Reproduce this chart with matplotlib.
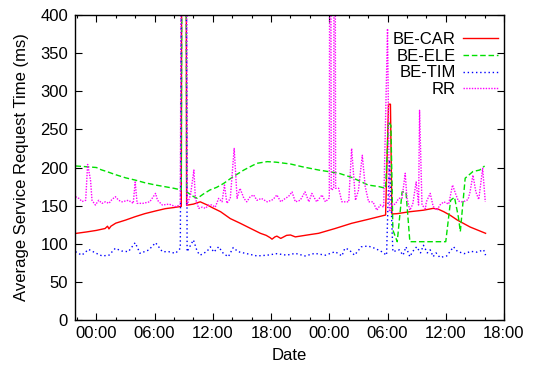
import matplotlib
matplotlib.use('Agg')
import matplotlib.pyplot as plt
from matplotlib.ticker import MultipleLocator, FuncFormatter

plt.rcParams['font.family'] = ['Liberation Sans', 'DejaVu Sans']
plt.rcParams['font.size'] = 12

# hours counted from midnight of the first full day; 900 marks readings far above the plotted range
car_t = [-2.15, -1.0, 0.0, 0.9, 1.15, 1.3, 1.5, 2.0, 3.0, 4.0, 5.0, 6.1, 7.1, 8.0, 8.75, 8.85, 9.2, 9.3,
         10.0, 10.7, 11.4, 12.0, 12.8, 13.8, 14.8, 15.9, 16.9, 17.5, 17.9, 18.1, 18.4, 18.6, 19.0, 19.6,
         20.0, 20.5, 21.0, 22.0, 22.9, 24.6, 26.3, 28.0, 29.8, 30.1, 30.3, 30.45, 31.0, 32.3, 33.7, 34.7,
         35.2, 35.8, 36.5, 37.2, 38.5, 40.1]
car_ms = [113.5, 115.5, 117.5, 120, 123, 119.5, 123, 127, 131, 135.5, 139.5, 143, 146, 147.5, 149, 900, 900, 150.5,
          152, 155, 151, 147, 142, 133, 127, 120, 113.7, 111, 108, 106, 109, 110, 107, 111,
          111.5, 109, 110, 112, 113.7, 120, 126.8, 132, 137.7, 283, 283, 139, 139.5, 142, 144, 146.4,
          145.5, 142, 137, 131, 122, 113.7]

ele_t = [-2.15, -1.0, 0.0, 0.5, 1.0, 2.0, 3.0, 4.0, 5.0, 6.1, 7.0, 8.0, 8.75, 8.9, 9.2, 9.3,
         10.0, 10.4, 11.0, 11.7, 12.4, 13.1, 14.1, 15.2, 16.0, 16.55, 17.6, 18.5, 20.0, 21.2, 22.9,
         25.0, 26.3, 27.0, 28.0, 29.1, 29.8, 30.1, 30.35, 30.55, 31.0, 31.5, 31.9, 32.3, 33.0, 35.5,
         36.0, 36.5, 36.9, 37.3, 37.5, 38.0, 38.8, 39.5, 40.0]
ele_ms = [202, 201, 200, 197, 195, 190.5, 186.5, 183.5, 180, 177, 175, 172.7, 170.5, 900, 900, 168,
          162, 159.5, 165, 170.5, 174, 179, 188, 196.7, 202, 205.5, 207.7, 207, 204.6, 201, 196.7,
          192.4, 187, 183, 177, 175, 172.7, 260, 255, 118, 102.7, 168, 168, 102.7, 102.7, 102.7,
          102.7, 157, 161, 135, 116, 186, 194.7, 196.7, 202]

tim_t = [-2.15, -1.5, -0.8, 0.0, 0.6, 1.3, 1.95, 2.6, 3.3, 4.0, 4.5, 5.4, 6.1, 6.8, 7.45, 8.15, 8.65, 8.9,
         9.2, 9.35, 10.0, 10.4, 10.7, 11.4, 11.75, 12.1, 12.6, 13.1, 13.6, 14.1, 14.6, 15.5, 16.55,
         17.6, 18.6, 19.6, 20.5, 21.5, 22.5, 23.6, 24.6, 25.3, 25.6, 26.0, 26.6, 27.3, 28.0, 28.7,
         29.4, 29.9, 30.05, 30.2, 30.35, 30.55, 31.2, 31.6, 31.9, 32.3, 32.6, 33.0, 33.4, 33.7,
         34.1, 34.4, 34.7, 35.0, 35.4, 36.1, 36.8, 37.2, 37.9, 38.6, 39.2, 39.9, 40.1]
tim_ms = [89.6, 85, 92.6, 87.4, 84, 85, 94, 90.5, 89.6, 101.4, 87.4, 91.8, 101.4, 89.6, 89.6, 87.4, 94, 900,
          900, 89.6, 105, 89.6, 85, 90, 96, 89, 96, 87, 83, 95, 89.6, 87, 84,
          85, 87, 85, 87.4, 84, 87.4, 85, 89.6, 84, 94, 92.6, 85, 96, 97, 94,
          89.6, 85, 153, 210, 160, 89.6, 92, 85, 96, 83, 90, 96, 88, 98,
          88, 92, 83, 88, 82, 84, 96, 90, 87, 90, 89, 92, 85]

rr_t = [-2.15, -1.8, -1.47, -1.1, -0.9, -0.6, -0.45, -0.1, 0.24, 0.59, 0.93, 1.3, 1.6, 1.96, 2.3, 2.65,
        3.3, 3.8, 4.0, 4.2, 4.8, 5.5, 6.1, 6.3, 6.8, 7.5, 8.15, 8.65, 8.85, 9.25, 9.35, 9.7, 10.05,
        10.2, 10.55, 10.9, 11.25, 11.55, 11.9, 12.25, 12.6, 12.95, 13.2, 13.45, 13.8, 14.2, 14.5,
        14.8, 15.2, 15.5, 15.85, 16.2, 16.55, 17.0, 17.6, 18.2, 18.6, 19.0, 19.47, 19.8, 20.16,
        20.5, 21.0, 21.5, 21.9, 22.2, 22.7, 23.25, 23.6, 24.0, 24.1, 24.2, 24.45, 24.55, 24.65,
        24.96, 25.3, 25.6, 26.0, 26.3, 26.7, 27.0, 27.4, 27.7, 28.05, 28.5, 28.9, 29.25, 29.6,
        30.0, 30.2, 30.45, 30.8, 31.15, 31.5, 31.82, 32.0, 32.3, 32.6, 32.95, 33.2, 33.3, 33.55,
        33.9, 34.0, 34.4, 34.7, 35.1, 35.4, 35.8, 36.3, 36.7, 37.0, 37.3, 37.6, 38.0, 38.3, 38.5,
        38.8, 39.1, 39.4, 39.8, 40.07]
rr_ms = [161.7, 159.5, 155.4, 157, 204, 183.6, 157, 150.8, 157, 153, 155, 153, 158, 161.7, 157, 155,
         157, 153, 181, 153, 153, 155, 166, 157, 150.8, 152, 148.7, 150.8, 900, 900, 150.8, 164, 196.7,
         159.5, 146.4, 148, 146.4, 150.8, 150.8, 148, 159.5, 155, 177, 153, 159.5, 225, 159.5,
         172.7, 159.5, 155, 161.7, 164, 157, 159.5, 155, 158, 164, 155, 159.5, 162, 168,
         155, 157, 168, 155, 166, 155, 164, 155, 160, 1000, 170.5, 172, 1000, 172.7,
         172.7, 155, 155, 155, 225, 157, 170, 216, 175, 155, 155, 144, 150.8, 148,
         382, 142, 150.8, 152, 159.5, 160, 192.4, 160, 144, 152, 181, 150.8, 275, 150.8,
         146, 155, 166, 149, 144, 150.8, 155, 152, 177, 166, 156, 155, 156, 158, 168,
         190, 168, 158, 199, 155]

fig = plt.figure(figsize=(5.33, 3.65), dpi=100)
ax = fig.add_axes([75 / 533, 45 / 365, 429 / 533, 305 / 365])

ax.plot(car_t, car_ms, color='#ff0000', lw=1.0, label='BE-CAR')
ax.plot(ele_t, ele_ms, color='#00e000', lw=1.0, ls=(0, (4, 2)), label='BE-ELE')
ax.plot(tim_t, tim_ms, color='#0000ff', lw=1.0, ls=(0, (1, 2)), label='BE-TIM')
ax.plot(rr_t, rr_ms, color='#ff00ff', lw=1.0, ls=(0, (1, 1)), label='RR')

ax.set_xlim(-2.2, 42)
ax.set_ylim(0, 400)
ax.xaxis.set_major_locator(MultipleLocator(6))
ax.xaxis.set_minor_locator(MultipleLocator(2))
ax.xaxis.set_major_formatter(FuncFormatter(lambda h, pos: '%02d:00' % (int(round(h)) % 24)))
ax.yaxis.set_major_locator(MultipleLocator(50))
ax.tick_params(which='both', direction='in', top=True, right=True, width=0.8)
ax.tick_params(which='major', length=5)
ax.tick_params(which='minor', length=2.5)
ax.tick_params(axis='x', pad=4)
ax.tick_params(axis='y', pad=5)
for s in ax.spines.values():
    s.set_linewidth(1.0)

ax.set_xlabel('Date', labelpad=5)
ax.set_ylabel('Average Service Request Time (ms)', labelpad=8)

ax.legend(loc='upper right', bbox_to_anchor=(0.985, 0.944), frameon=False, markerfirst=False,
          borderpad=0, borderaxespad=0, handlelength=2.1, handletextpad=0.4, labelspacing=0.1)

fig.savefig('out.png', dpi=100)
